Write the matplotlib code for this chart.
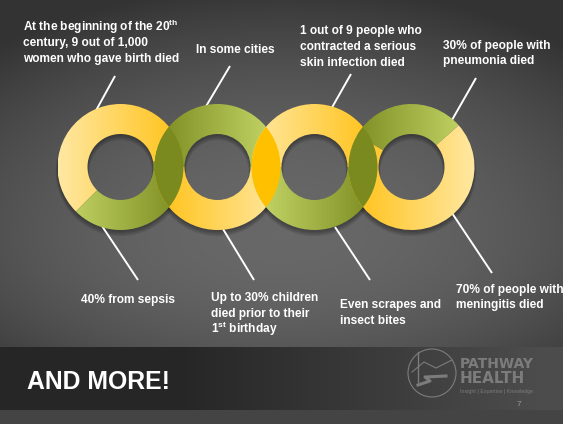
import numpy as np
import matplotlib
matplotlib.use('Agg')
import matplotlib.pyplot as plt
from matplotlib.patches import Wedge, Circle
from matplotlib.colors import LinearSegmentedColormap

W, H = 563, 424

# ring data: share of the green part (percent) and where it starts (deg)
green_share = [40, 50, 50, 30]
green_start = [225, 0, 180, 41.5]

top_labels = [
    ["At the beginning of the 20$^{th}$", "century, 9 out of 1,000", "women who gave birth died"],
    ["In some cities"],
    ["1 out of 9 people who", "contracted a serious", "skin infection died"],
    ["30% of people with", "pneumonia died"],
]
bottom_labels = [
    ["40% from sepsis"],
    ["Up to 30% children", "died prior to their", "1$^{st}$ birthday"],
    ["Even scrapes and", "insect bites"],
    ["70% of people with", "meningitis died"],
]
title = "AND MORE!"

# layout (pixels, y from top)
cx = [120.5, 217.5, 314.5, 411.5]
cy = 167
R_OUT, R_IN = 63, 33
top_pos = [(23, 26), (196, 48.5), (300.5, 29.5), (443, 44)]
bottom_pos = [(81, 299), (211, 297), (340, 303.5), (456, 288)]
LINE_STEP = 15.8
top_lines = [((115, 76), (93, 116)), ((230, 66), (205, 108)),
             ((351, 74), (330, 111)), ((476, 78), (452, 120))]
bottom_lines = [((100, 223), (138, 280)), ((223, 229), (254, 280)),
                ((335, 227), (370, 280)), ((452, 213), (492, 273))]

YEL_PALE = '#ffe8a2'
YEL = '#ffc114'
GRN_LIGHT = '#c9da6c'
GRN_DARK = '#7a8a1f'

plt.rcParams['font.family'] = ['Liberation Sans', 'DejaVu Sans']
plt.rcParams['mathtext.fontset'] = 'custom'
plt.rcParams['mathtext.rm'] = 'Liberation Sans:bold'
plt.rcParams['mathtext.it'] = 'Liberation Sans:bold'


def Y(y):
    return H - y


fig = plt.figure(figsize=(W / 100, H / 100), dpi=100)
ax = fig.add_axes([0, 0, 1, 1])

# background
yy, xx = np.mgrid[0:H, 0:W].astype(float)
dy = np.where(yy < 235, (yy - 235) / 250, (yy - 235) / 200)
r2 = ((xx - 282) / 430) ** 2 + dy ** 2
v = np.clip(0.408 - 0.205 * r2, 0.2, 1)
band = (yy >= 347) & (yy < 410)
v[band] = (0.15 + 0.15 * np.clip((xx - 180) / 360, 0, 1))[band]
v[yy >= 410] = 0.27
ax.imshow(np.dstack([v, v, v]), extent=(0, W, 0, H), origin='upper', aspect='auto', zorder=0)

# shadows
for i in range(4):
    for k in range(4):
        sh = Wedge((cx[i], Y(cy) - 2 - 0.8 * k), R_OUT + 0.6 * k, 0, 360,
                   width=R_OUT - R_IN + 1.2 * k, facecolor='black', edgecolor='none',
                   alpha=0.09, zorder=1)
        ax.add_patch(sh)

# leader lines
for (p1, p2) in top_lines + bottom_lines:
    ax.plot([p1[0], p2[0]], [Y(p1[1]), Y(p2[1])], color='white', lw=1.4,
            solid_capstyle='butt', zorder=2)

grad = np.linspace(0, 1, 256).reshape(1, -1)


def grad_wedge(x, t1, t2, c_left, c_right):
    w = Wedge((x, Y(cy)), R_OUT, t1, t2, width=R_OUT - R_IN,
              facecolor='none', edgecolor='none')
    ax.add_patch(w)
    cmap = LinearSegmentedColormap.from_list('g', [c_left, c_right])
    im = ax.imshow(grad, cmap=cmap, aspect='auto', zorder=3,
                   extent=(x - R_OUT, x + R_OUT, Y(cy) - R_OUT, Y(cy) + R_OUT))
    im.set_clip_path(w)


for i in range(4):
    g1 = green_start[i]
    g2 = g1 + green_share[i] * 3.6
    if i % 2 == 0:
        grad_wedge(cx[i], g2, g1 + 360, YEL_PALE, YEL)
        grad_wedge(cx[i], g1, g2, GRN_LIGHT, GRN_DARK)
    else:
        grad_wedge(cx[i], g1, g2, GRN_DARK, GRN_LIGHT)
        grad_wedge(cx[i], g2, g1 + 360, YEL, YEL_PALE)

# overlaps
lens_colors = ['#7b8a1e', '#ffc000', '#7b8a1e']
for i in range(3):
    clip = Circle((cx[i], Y(cy)), R_OUT, transform=ax.transData)
    c = Circle((cx[i + 1], Y(cy)), R_OUT, facecolor=lens_colors[i], edgecolor='none', zorder=4)
    ax.add_patch(c)
    c.set_clip_path(clip)

# labels
for i in range(4):
    x, y0 = top_pos[i]
    for j, s in enumerate(top_labels[i]):
        ax.text(x, Y(y0 + j * LINE_STEP + 4.5), s, color='white', fontsize=8.6,
                fontweight='bold', va='baseline', ha='left', zorder=5)
    x, y0 = bottom_pos[i]
    for j, s in enumerate(bottom_labels[i]):
        ax.text(x, Y(y0 + j * LINE_STEP + 4.5), s, color='white', fontsize=8.6,
                fontweight='bold', va='baseline', ha='left', zorder=5)

ax.text(27, Y(389), title, color='white', fontsize=17.8, fontweight='bold',
        va='baseline', ha='left', zorder=5)

# logo
logo_c = '#7c7c7c'
ax.add_patch(Circle((432, Y(373)), 24, facecolor='none', edgecolor=logo_c, lw=0.8, zorder=5))
ax.plot([412, 424, 436, 452], [Y(372), Y(362), Y(368), Y(360)], color=logo_c, lw=0.8, zorder=5)
ax.plot([418, 430, 425, 446], [Y(385), Y(381), Y(377), Y(376)], color=logo_c, lw=2.2, zorder=5)
ax.plot([418, 418], [Y(352), Y(382)], color=logo_c, lw=1.0, zorder=5)
ax.text(460, Y(368), "PATHWAY", color=logo_c, fontsize=10, fontweight='bold',
        family='DejaVu Sans', va='baseline', ha='left', zorder=5)
ax.text(460, Y(383), "HEALTH", color=logo_c, fontsize=11, fontweight='bold',
        family='DejaVu Sans', va='baseline', ha='left', zorder=5)
ax.text(460, Y(393), "Insight | Expertise | Knowledge", color=logo_c, fontsize=3.8,
        va='baseline', ha='left', zorder=5)
ax.text(519, Y(404), "7", color='#9a9a9a', fontsize=6, va='center', ha='center', zorder=5)

ax.set_xlim(0, W)
ax.set_ylim(0, H)
ax.axis('off')

fig.savefig('out.png', dpi=100)
